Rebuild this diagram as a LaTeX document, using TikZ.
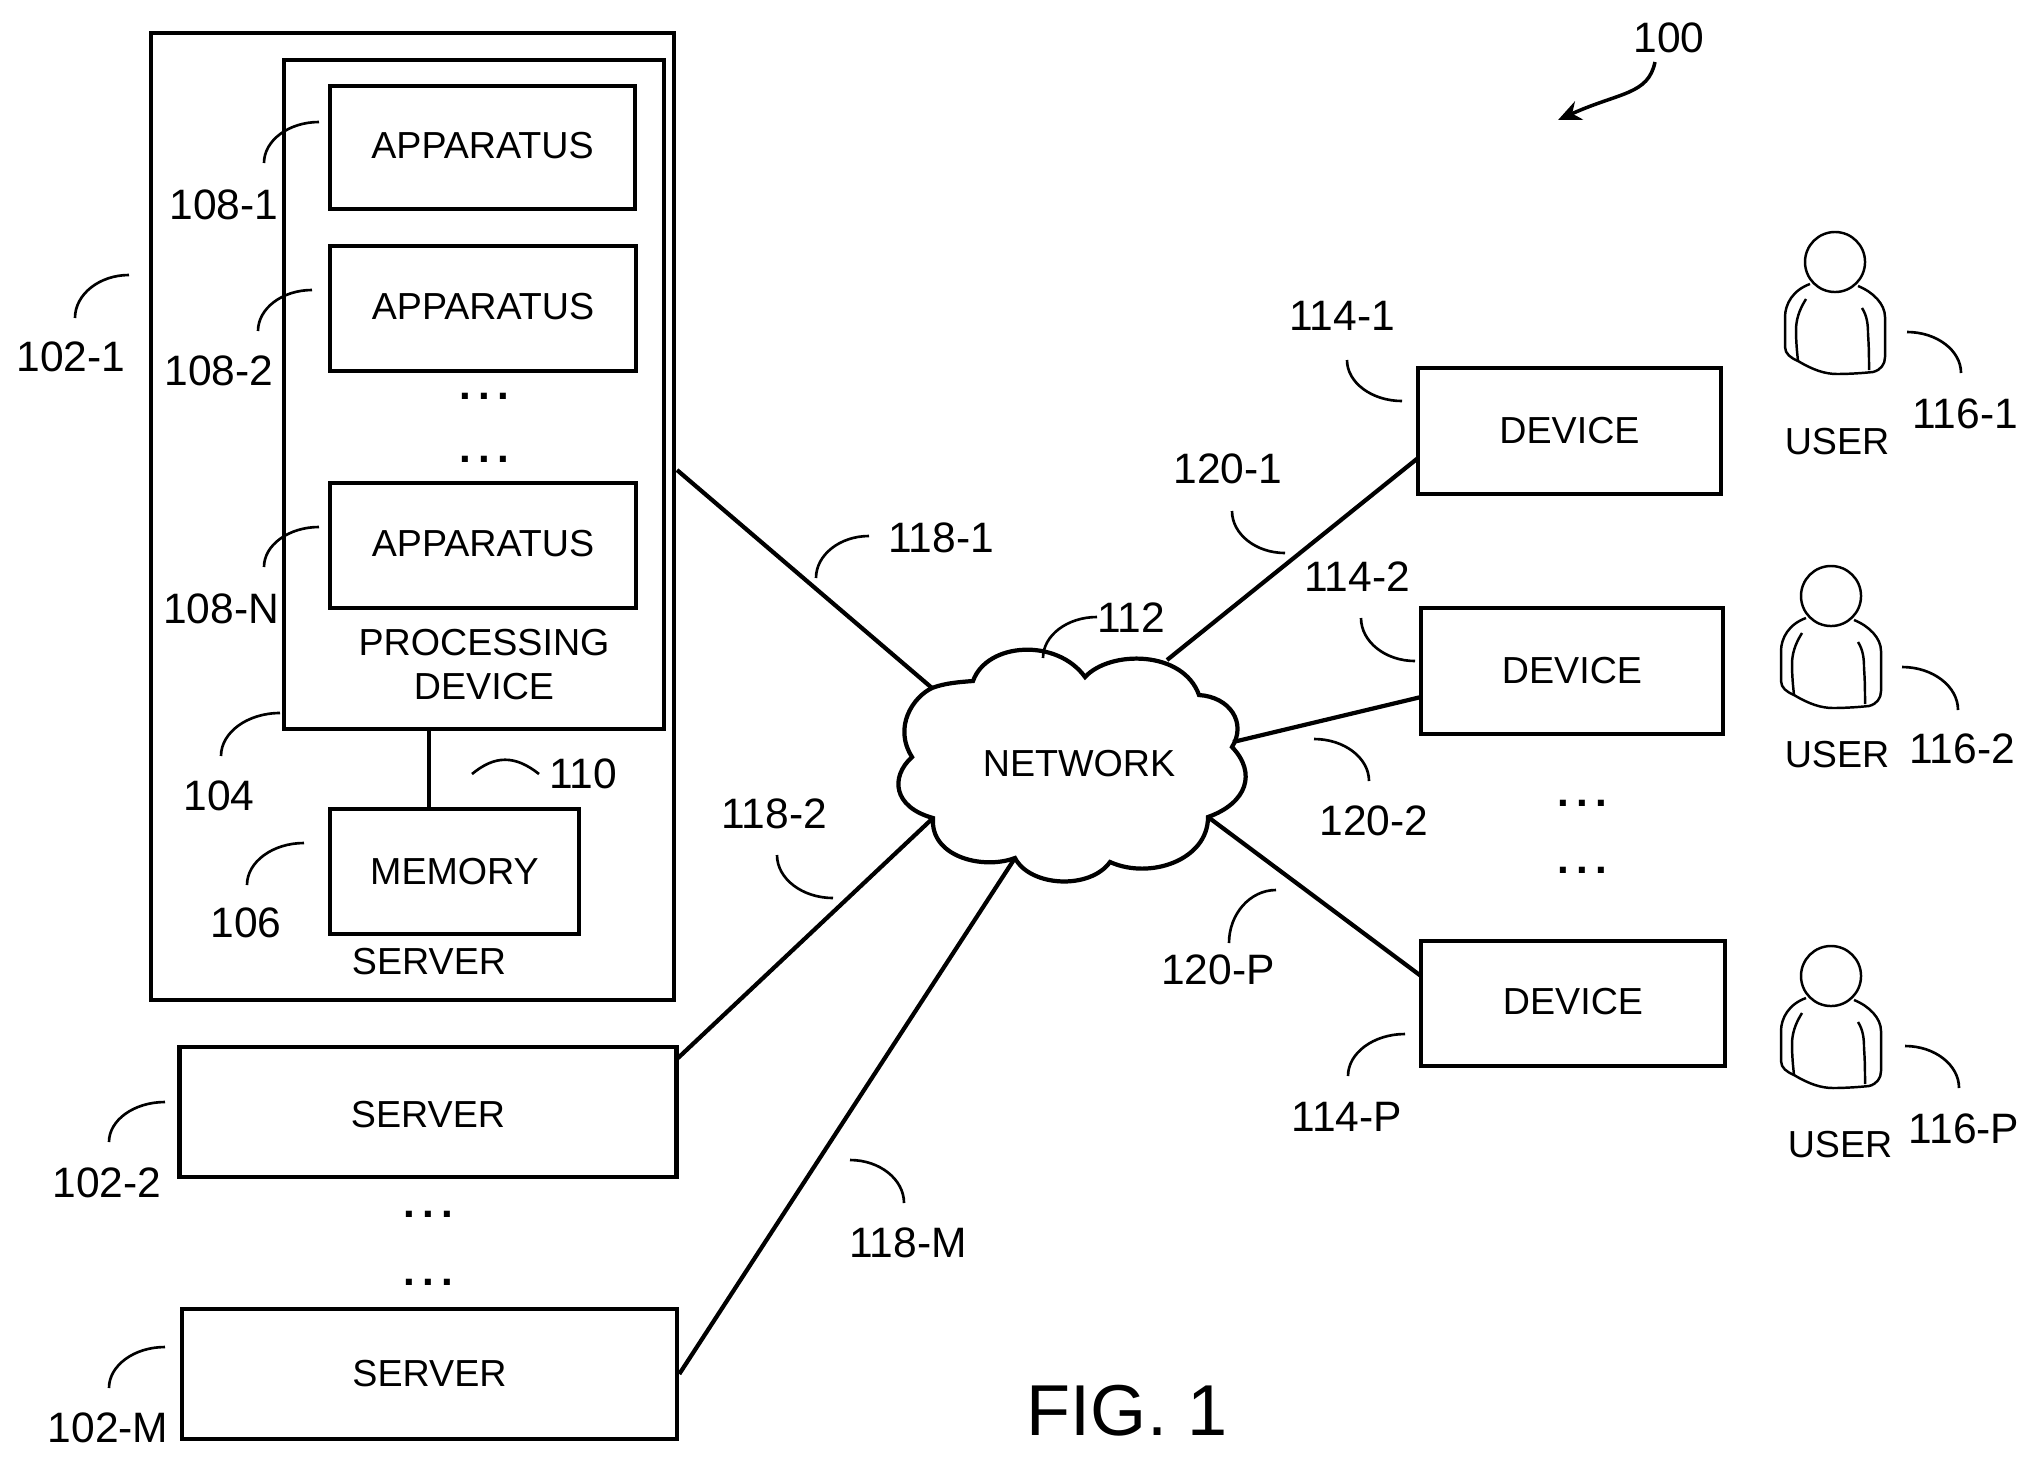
\documentclass[tikz,border=0pt]{standalone}
\usepackage{fontspec}
\setmainfont{Liberation Sans}
\usetikzlibrary{arrows.meta,calc}
\newcommand{\leadline}[3]{\coordinate (#1a) at (#2); \coordinate (#1b) at (#3); \draw[lead] (#1a) .. controls ($(#1a)!.55!(#1b |- #1a)$) and ($(#1b)!.55!(#1b |- #1a)$) .. (#1b);}
\newcommand{\threedots}{.\kern2.1pt.\kern2.1pt.}
\newcommand{\userfig}[2]{%
  \node[head] (#1) at (#2) {};
  \begin{scope}[shift={(#2)}]
    \draw[thin line] (-25,22) .. controls (-42,28) and (-50,42) .. (-50,55) -- (-50,85) .. controls (-50,92) and (-44,96) .. (-37,99) .. controls (-22,108) and (-10,112) .. (2,112) .. controls (15,112) and (28,111) .. (38,110) .. controls (46,108) and (50,102) .. (50,95) -- (50,55) .. controls (50,42) and (38,30) .. (23,24);
    \draw[thin line] (-29,37) .. controls (-36,48) and (-39,58) .. (-39,68) .. controls (-39,80) and (-38,90) .. (-37,99);
    \draw[thin line] (27,46) .. controls (32,54) and (33,62) .. (33,72) .. controls (34,85) and (34,97) .. (34,108);
  \end{scope}}
\begin{document}
\begin{tikzpicture}[
    x=0.01cm, y=-0.01cm,
    wire/.style={line width=1.2pt},
    box/.style={draw, line width=1.3pt, inner sep=0pt, align=center, font=\fontsize{10.7}{12.5}\selectfont},
    size/.style 2 args={minimum width=#1*0.01cm, minimum height=#2*0.01cm},
    upper/.style={text depth=0.05cm},
    lower/.style={text height=0.32cm},
    txt/.style={inner sep=0pt, align=center, font=\fontsize{10.7}{12.5}\selectfont},
    lbl/.style={inner sep=0pt, font=\fontsize{12.1}{14}\selectfont},
    dots/.style={inner sep=0pt, font=\fontsize{12}{14}\selectfont\bfseries},
    lead/.style={line width=0.75pt},
    thin line/.style={line width=0.7pt},
    head/.style={draw, circle, line width=0.7pt, inner sep=0pt, minimum size=0.6cm}
  ]
    \useasboundingbox (0,0) rectangle (2040,1463);

    % servers
    \node[box, size={523}{967}] (srv1) at (412.5,516.5) {};
    \node[box, size={380}{669}] (proc) at (474,394.5) {};
    \node[box, upper, size={305}{123}] (app1) at (482.5,147.5) {APPARATUS};
    \node[box, upper, size={306}{125}] (app2) at (483,308.5) {APPARATUS};
    \node[box, upper, size={306}{125}] (appN) at (483,545.5) {APPARATUS};
    \node[box, size={249}{125}] (mem) at (454.5,871.5) {MEMORY};
    \node[box, lower, size={497}{130}] (srv2) at (428,1112) {SERVER};
    \node[box, size={495}{130}] (srvM) at (429.5,1374) {SERVER};
    \node[txt] (proctxt) at (484,665) {PROCESSING\\DEVICE};
    \node[txt] (srvtxt) at (429,962) {SERVER};
    \node[dots] (dotsa) at (484,396) {\threedots};
    \node[dots] (dotsb) at (484,459) {\threedots};
    \node[dots] (dotsc) at (428,1214) {\threedots};
    \node[dots] (dotsd) at (428,1282) {\threedots};

    % devices
    \node[box, size={303}{126}] (dev1) at (1569.5,431) {DEVICE};
    \node[box, size={302}{126}] (dev2) at (1572,671) {DEVICE};
    \node[box, upper, size={304}{125}] (devP) at (1573,1003.5) {DEVICE};
    \node[dots] (dotse) at (1582,803) {\threedots};
    \node[dots] (dotsf) at (1582,870) {\threedots};

    % network
    \coordinate (na) at (932,688);
    \coordinate (nb) at (973,681);
    \coordinate (nc) at (1085,677);
    \coordinate (nd) at (1199,695);
    \coordinate (ne) at (1232,747);
    \coordinate (nf) at (1208,817);
    \coordinate (ng) at (1110,862);
    \coordinate (nh) at (1015,858);
    \coordinate (ni) at (933,818);
    \coordinate (nj) at (912,757);
    \draw[wire] (na) .. controls (945,683) and (960,682) .. (nb)
      .. controls (987,642) and (1057,638) .. (nc)
      .. controls (1110,650) and (1183,650) .. (nd)
      .. controls (1230,697) and (1247,723) .. (ne)
      .. controls (1257,773) and (1247,803) .. (nf)
      .. controls (1208,860) and (1150,880) .. (ng)
      .. controls (1090,890) and (1030,887) .. (nh)
      .. controls (983,870) and (930,857) .. (ni)
      .. controls (893,807) and (890,777) .. (nj)
      .. controls (893,727) and (913,697) .. (na) -- cycle;
    \node[txt] (net) at (1079,764) {NETWORK};

    % connectors
    \coordinate (s1) at (677,470);
    \coordinate (s2) at (678,1058);
    \coordinate (d1) at (1418,458);
    \coordinate (d2) at (1421,697);
    \coordinate (dP) at (1421,976);
    \coordinate (c1) at (1167,660);
    \coordinate (c2) at (1233,742);
    \coordinate (mt) at (429,729);
    \draw[wire] (s1) -- (na);
    \draw[wire] (s2) -- (ni);
    \draw[wire] (srvM.east) -- (nh);
    \draw[wire] (c1) -- (d1);
    \draw[wire] (c2) -- (d2);
    \draw[wire] (nf) -- (dP);
    \draw[wire] (mt) -- (mt |- mem.north);

    % users
    \userfig{usr1}{1835,262}
    \userfig{usr2}{1831,596}
    \userfig{usrP}{1831,976}
    \node[txt] (usrt1) at (1837,442) {USER};
    \node[txt] (usrt2) at (1837,755) {USER};
    \node[txt] (usrtP) at (1840,1145) {USER};

    % reference numerals
    \node[lbl] (t100) at (1669,38) {100};
    \node[lbl] (t1021) at (71,357) {102-1};
    \node[lbl] (t1022) at (107,1183) {102-2};
    \node[lbl] (t102M) at (108,1428) {102-M};
    \node[lbl] (t104) at (219,796) {104};
    \node[lbl] (t106) at (246,923) {106};
    \node[lbl] (t1081) at (224,205) {108-1};
    \node[lbl] (t1082) at (219,371) {108-2};
    \node[lbl] (t108N) at (221,609) {108-N};
    \node[lbl] (t110) at (583,774) {110};
    \node[lbl] (t112) at (1131,618) {112};
    \node[lbl] (t1141) at (1342,316) {114-1};
    \node[lbl] (t1142) at (1357,577) {114-2};
    \node[lbl] (t114P) at (1347,1117) {114-P};
    \node[lbl] (t1161) at (1965,414) {116-1};
    \node[lbl] (t1162) at (1962,749) {116-2};
    \node[lbl] (t116P) at (1964,1129) {116-P};
    \node[lbl] (t1181) at (941,538) {118-1};
    \node[lbl] (t1182) at (774,814) {118-2};
    \node[lbl] (t118M) at (908,1243) {118-M};
    \node[lbl] (t1201) at (1228,469) {120-1};
    \node[lbl] (t1202) at (1374,821) {120-2};
    \node[lbl] (t120P) at (1218,970) {120-P};
    \node[inner sep=0pt, font=\fontsize{20.5}{24}\selectfont] (fig) at (1127,1411) {FIG. 1};

    % leaders
    \leadline{la}{129,275}{75,318}
    \leadline{lb}{319,122}{264,163}
    \leadline{lc}{312,290}{258,331}
    \leadline{ld}{319,527}{264,567}
    \leadline{le}{280,713}{221,756}
    \leadline{lf}{304,843}{247,885}
    \leadline{lg}{165,1102}{109,1142}
    \leadline{lh}{165,1347}{109,1388}
    \leadline{li}{869,536}{816,578}
    \leadline{lj}{833,898}{777,855}
    \leadline{lk}{850,1160}{904,1203}
    \leadline{ll}{1097,617}{1043,658}
    \leadline{lm}{1285,553}{1232,511}
    \leadline{ln}{1314,739}{1369,781}
    \leadline{lo}{1276,890}{1229,943}
    \leadline{lp}{1402,401}{1347,360}
    \leadline{lq}{1415,661}{1361,618}
    \leadline{lr}{1405,1034}{1348,1076}
    \leadline{ls}{1907,332}{1961,373}
    \leadline{lt}{1902,667}{1958,710}
    \leadline{lu}{1905,1046}{1959,1088}
    \coordinate (lva) at (472,774);
    \coordinate (lvb) at (539,774);
    \draw[lead] (lva) .. controls (495,755) and (515,755) .. (lvb);
    \coordinate (ar1) at (1655,62);
    \coordinate (ar2) at (1558,120);
    \draw[wire, line width=1pt, -{Stealth[length=2.3mm, width=2mm]}] (ar1) .. controls (1648,95) and (1620,92) .. (ar2);
  \end{tikzpicture}
\end{document}
